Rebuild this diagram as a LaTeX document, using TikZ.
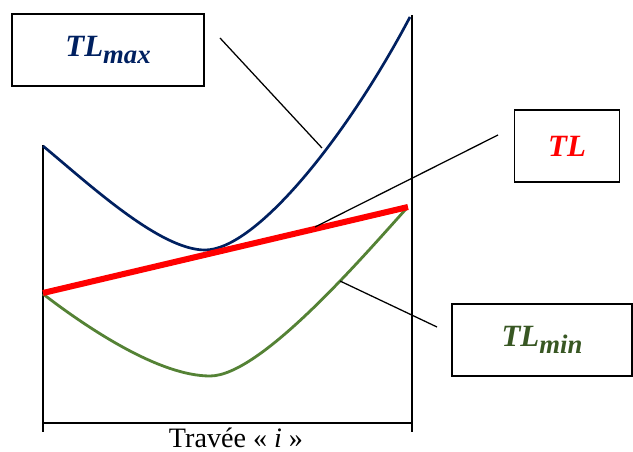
\documentclass[tikz,border=0pt]{standalone}
\usepackage{fontspec}
\setmainfont{Liberation Serif}
\usetikzlibrary{positioning}
\definecolor{tlblue}{RGB}{0,32,96}
\definecolor{tlgreen}{RGB}{84,130,53}
\definecolor{tlgreendark}{RGB}{56,87,35}
\newcommand{\tlsub}[1]{\raisebox{-5pt}{\fontsize{19}{22}\selectfont #1}}

\begin{document}
\begin{tikzpicture}[
    x=0.025cm, y=-0.025cm,
    legend/.style={rectangle, draw=black, line width=1pt, minimum height=1.8cm, inner sep=0pt, align=center, font=\fontsize{22}{26}\selectfont\bfseries\itshape},
    support/.style={draw=black, line width=1pt},
    leader/.style={draw=black, line width=0.9pt},
]
    \useasboundingbox (0,0) rectangle (633,452);

    % Span supports
    \draw[support] (43,145) -- (43,432);
    \draw[support] (412,15) -- (412,432);
    \draw[support] (43,423) -- (412,423);
    \node[font=\fontsize{20}{24}\selectfont, anchor=base] (span) at (236,448) {Travée « \textit{i} »};

    % Curves
    \draw[tlblue, line width=1.9pt] (43,146) .. controls (90,185) and (160,250) .. (205,250)
        .. controls (255,250) and (345,140) .. (410,17);
    \draw[tlgreen, line width=2pt] (43,294) .. controls (90,330) and (160,376) .. (210,376)
        .. controls (260,376) and (360,260) .. (406,209);
    \draw[red, line width=4.3pt] (43,293) -- (408,207);

    % Legend boxes
    \node[legend, minimum width=4.8cm, text=tlblue] (tlmax) at (108,50) {TL\tlsub{max}};
    \node[legend, minimum width=2.625cm, text=red] (tl) at (567,146) {TL};
    \node[legend, minimum width=4.5cm, text=tlgreendark] (tlmin) at (542,340) {TL\tlsub{min}};

    % Leader lines
    \coordinate (maxend) at (220,38);
    \coordinate (maxpt) at (322,148);
    \coordinate (tlend) at (498,135);
    \coordinate (tlpt) at (315,227);
    \coordinate (minend) at (437,327);
    \coordinate (minpt) at (340,281);
    \draw[leader] (maxend) -- (maxpt);
    \draw[leader] (tlend) -- (tlpt);
    \draw[leader] (minend) -- (minpt);
\end{tikzpicture}
\end{document}
